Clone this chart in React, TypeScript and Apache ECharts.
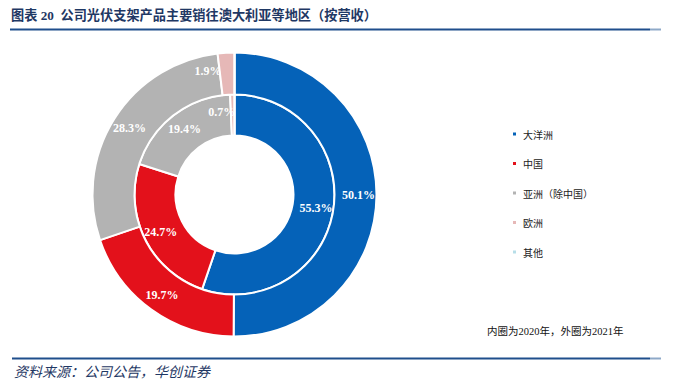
import React, { useEffect, useRef } from "react";
import * as echarts from "echarts";

const categories = ["大洋洲", "中国", "亚洲（除中国）", "欧洲", "其他"];
const inner2020 = [55.3, 24.7, 19.4, 0.7, 0];
const outer2021 = [50.1, 19.7, 28.3, 1.9, 0];
const colors = ["#0562B8", "#E3111B", "#B3B3B3", "#E6B8B7", "#B7DEE8"];
const innerOffsets: Record<number, number[]> = { 3: [-11, 0] };
const outerOffsets: Record<number, number[]> = { 3: [-19, 0] };

const labelFont = "'Liberation Serif', 'Times New Roman', serif";
const cjkFont = "'Liberation Serif', 'Noto Sans CJK SC', serif";

function buildData(values: number[], offsets: Record<number, number[]>) {
  return values.map((v, i) => ({
    name: categories[i],
    value: v,
    itemStyle: { color: colors[i] },
    label: offsets[i] ? { offset: offsets[i] } : undefined,
  }));
}

export default function App() {
  const ref = useRef<HTMLDivElement>(null);
  useEffect(() => {
    if (!ref.current) return;
    const chart = echarts.init(ref.current, undefined, { renderer: "svg" });
    const commonLabel = {
      show: true,
      position: "inside",
      color: "#fff",
      fontWeight: "bold",
      fontSize: 12,
      fontFamily: labelFont,
      formatter: (p: any) => (p.value > 0 ? p.value.toFixed(1) + "%" : ""),
    };
    chart.setOption({
      animation: false,
      backgroundColor: "#fff",
      legend: {
        orient: "vertical",
        left: 506,
        top: 123,
        itemWidth: 5,
        itemHeight: 5,
        itemGap: 17.5,
        icon: "rect",
        data: categories,
        textStyle: {
          fontSize: 10,
          color: "#222",
          fontFamily: "'Noto Sans CJK SC', sans-serif",
          lineHeight: 12,
          padding: [0, 0, 0, 1],
        },
      },
      graphic: [
        {
          type: "text",
          left: 11,
          top: 9,
          style: {
            text: "图表 20  公司光伏支架产品主要销往澳大利亚等地区（按营收）",
            fontSize: 13.2,
            fontWeight: "bold",
            fill: "#1F3864",
            fontFamily: cjkFont,
          },
        },
        { type: "line", shape: { x1: 10, y1: 29.5, x2: 650, y2: 29.5 }, style: { stroke: "#1F4E8C", lineWidth: 2 } },
        { type: "line", shape: { x1: 650, y1: 29.5, x2: 661, y2: 29.5 }, style: { stroke: "#8EA9C8", lineWidth: 2 } },
        { type: "line", shape: { x1: 12, y1: 358.5, x2: 650, y2: 358.5 }, style: { stroke: "#1F4E8C", lineWidth: 2 } },
        { type: "line", shape: { x1: 650, y1: 358.5, x2: 661, y2: 358.5 }, style: { stroke: "#8EA9C8", lineWidth: 2 } },
        {
          type: "text",
          left: 487,
          top: 326,
          style: {
            text: "内圈为2020年，外圈为2021年",
            fontSize: 10.5,
            fill: "#111",
            fontFamily: cjkFont,
          },
        },
        {
          type: "text",
          left: 14,
          top: 364,
          style: {
            text: "资料来源：公司公告，华创证券",
            fontSize: 14,
            fontStyle: "italic",
            fill: "#1F3864",
            fontFamily: "'Noto Sans CJK SC', sans-serif",
          },
        },
      ],
      series: [
        {
          name: "2020",
          type: "pie",
          center: [234.5, 194.5],
          radius: [59, 100],
          startAngle: 90,
          clockwise: true,
          avoidLabelOverlap: false,
          itemStyle: { borderColor: "#fff", borderWidth: 2 },
          label: commonLabel,
          labelLine: { show: false },
          emphasis: { disabled: true },
          data: buildData(inner2020, innerOffsets),
        },
        {
          name: "2021",
          type: "pie",
          center: [234.5, 194.5],
          radius: [100, 142],
          startAngle: 90,
          clockwise: true,
          avoidLabelOverlap: false,
          itemStyle: { borderColor: "#fff", borderWidth: 2 },
          label: commonLabel,
          labelLine: { show: false },
          emphasis: { disabled: true },
          data: buildData(outer2021, outerOffsets),
        },
      ],
    });
    return () => chart.dispose();
  }, []);
  return (
    <div
      ref={ref}
      style={{ position: "fixed", left: 0, top: 0, width: 676, height: 385 }}
    />
  );
}
